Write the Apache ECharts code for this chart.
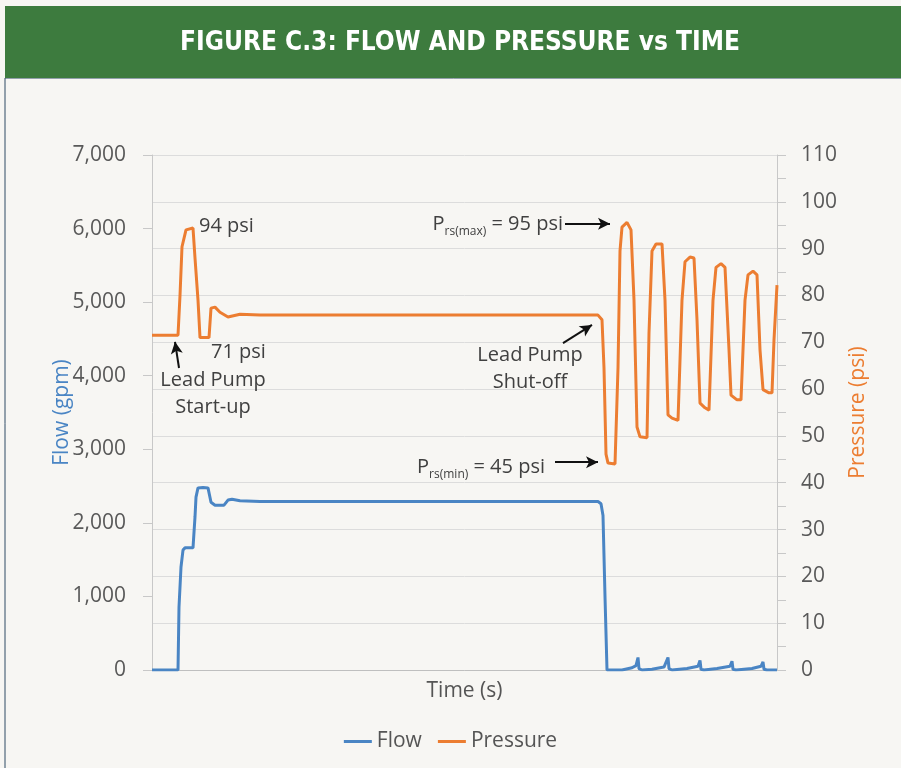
<!DOCTYPE html>
<html>
<head>
<meta charset="utf-8">
<title>Figure C.3</title>
<script src="https://cdn.jsdelivr.net/npm/echarts@6/dist/echarts.min.js"></script>
<style>
  html, body { margin: 0; padding: 0; background: #f7f6f3; }
  #chart { width: 901px; height: 768px; }
</style>
</head>
<body>
<div id="chart"></div>
<script>
// time axis has no labels in the original, so t is just an arbitrary time unit
const flowData = [
  [0, 0], [26, 0], [27, 856], [29, 1400], [31, 1630], [33, 1660], [41, 1660],
  [43, 2080], [44, 2350], [46, 2475], [51, 2480], [56, 2475], [59, 2280],
  [63, 2240], [72, 2240], [76, 2310], [80, 2320], [88, 2300], [108, 2290],
  [446, 2290], [449, 2260], [451, 2100], [453, 1000], [455, 0],
  [470, 0], [480, 30], [484, 60], [486, 170], [487, 20], [490, 0],
  [500, 10], [512, 40], [516, 170], [517, 20], [520, 0],
  [535, 20], [546, 50], [548, 130], [549, 10], [552, 0],
  [565, 20], [578, 50], [580, 120], [581, 10], [584, 0],
  [600, 20], [609, 50], [611, 110], [612, 10], [615, 0], [625, 0],
];

const pressureData = [
  [0, 71.5], [26, 71.5], [28, 80], [30, 90.4], [34, 94], [41, 94.4], [43, 88],
  [46, 79], [48, 71], [57, 71], [59, 77.3], [63, 77.5], [68, 76.4], [76, 75.4],
  [88, 76], [108, 75.8], [446, 75.8], [450, 74.8], [452, 64.5], [454, 46.1],
  [456, 44.2], [463, 44], [466, 64.5], [468, 89.5], [470, 94.6], [475, 95.6],
  [479, 94], [482, 79], [485, 51.9], [488, 49.8], [495, 49.6],
  [497, 72], [500, 89.5], [504, 91], [510, 91], [513, 79], [516, 54.5],
  [520, 53.8], [526, 53.3], [530, 79], [533, 87.2], [538, 88.2], [542, 88],
  [545, 74.8], [548, 57], [553, 56], [557, 55.5], [561, 79], [564, 86],
  [569, 86.8], [573, 86], [577, 68.4], [579, 58.7], [585, 57.7], [589, 57.7],
  [593, 79], [596, 84.4], [601, 85.2], [605, 84.4], [608, 68.4], [611, 59.9],
  [617, 59.2], [620, 59.2], [622, 70.5], [625, 82.2],
];

const flowTicks = { min: 0, max: 7000, interval: 1000 };
const pressureTicks = { min: 0, max: 110, interval: 10 };

// annotation text, anchored in [t, psi]
const notes = [
  { coord: [47, 94.8], text: "94 psi", pos: "right" },
  { coord: [59, 67.9], text: "71 psi", pos: "right" },
  { coord: [61, 59], text: "Lead Pump\nStart-up", pos: "inside" },
  { coord: [378, 64.4], text: "Lead Pump\nShut-off", pos: "inside" },
  { coord: [411, 95.3], text: "{p|P}{sub|rs(max)}{p| = 95 psi}", pos: "left" },
  { coord: [393, 43.4], text: "{p|P}{sub|rs(min)}{p| = 45 psi}", pos: "left" },
];

// arrows: [tail, head] in [t, psi]
const arrows = [
  [[27, 64.5], [23, 70.1]],
  [[413, 95.3], [458, 95.3]],
  [[411, 69.8], [440, 73.7]],
  [[403, 44.4], [446, 44.4]],
];

const font = "'Open Sans', sans-serif";
const textColor = "#404040";

const chart = echarts.init(document.getElementById("chart"));
chart.setOption({
  animation: false,
  backgroundColor: "#f7f6f3",
  color: ["#4a85c4", "#ec7d31"],
  graphic: [
    {
      type: "rect",
      shape: { x: 5, y: 78, width: 1000, height: 800 },
      style: { fill: "none", stroke: "#2e4a64", lineWidth: 1 },
      silent: true,
    },
    {
      type: "rect",
      shape: { x: 5, y: 6, width: 900, height: 72 },
      style: { fill: "#3d7b3e" },
      silent: true,
    },
    {
      type: "text",
      x: 460,
      y: 43,
      style: {
        text: "FIGURE C.3: FLOW AND PRESSURE vs TIME",
        fill: "#ffffff",
        font: "bold 26px 'Liberation Sans Narrow', 'DejaVu Sans Condensed', sans-serif",
        align: "center",
        verticalAlign: "middle",
      },
      silent: true,
    },
  ],
  legend: {
    bottom: 11,
    left: "center",
    icon: "rect",
    itemWidth: 28,
    itemHeight: 3,
    itemGap: 16,
    textStyle: { fontFamily: font, fontSize: 21, color: "#555555" },
    data: ["Flow", "Pressure"],
  },
  grid: { left: 152, right: 124, top: 155, bottom: 98 },
  xAxis: {
    type: "value",
    min: 0,
    max: 625,
    name: "Time (s)",
    nameLocation: "middle",
    nameGap: 11,
    nameTextStyle: { fontFamily: font, fontSize: 21, color: "#555555" },
    axisLine: { show: true, lineStyle: { color: "#bfbfbf" } },
    axisTick: { show: false },
    axisLabel: { show: false },
    splitLine: { show: false },
  },
  yAxis: [
    {
      type: "value",
      ...flowTicks,
      position: "left",
      name: "Flow (gpm)",
      nameLocation: "middle",
      nameRotate: 90,
      nameGap: 79,
      nameMoveOverlap: false,
      nameTextStyle: { fontFamily: font, fontSize: 21, color: "#4a85c4" },
      axisLine: { show: true, lineStyle: { color: "#c8c8c8" } },
      axisTick: { show: true, length: 9, lineStyle: { color: "#c8c8c8" } },
      axisLabel: {
        margin: 26,
        fontFamily: font,
        fontSize: 21,
        color: "#595959",
        formatter: (v) => v.toLocaleString("en-US"),
      },
      splitLine: { show: false },
    },
    {
      type: "value",
      ...pressureTicks,
      position: "right",
      name: "Pressure (psi)",
      nameLocation: "middle",
      nameRotate: 90,
      nameGap: 71,
      nameMoveOverlap: false,
      nameTextStyle: { fontFamily: font, fontSize: 21, color: "#ec7d31" },
      axisLine: { show: true, lineStyle: { color: "#c8c8c8" } },
      axisTick: { show: true, length: 9, lineStyle: { color: "#c8c8c8" } },
      minorTick: { show: true, splitNumber: 2, length: 9, lineStyle: { color: "#c8c8c8" } },
      axisLabel: { margin: 24, fontFamily: font, fontSize: 21, color: "#595959" },
      splitLine: { show: true, lineStyle: { color: "#dcdcdc", width: 1 } },
    },
  ],
  series: [
    {
      name: "Flow",
      type: "line",
      yAxisIndex: 0,
      showSymbol: false,
      lineStyle: { width: 3 },
      data: flowData,
    },
    {
      name: "Pressure",
      type: "line",
      yAxisIndex: 1,
      showSymbol: false,
      lineStyle: { width: 3 },
      data: pressureData,
      markPoint: {
        silent: true,
        symbol: "circle",
        symbolSize: 0,
        data: notes.map((n) => ({
          coord: n.coord,
          label: {
            show: true,
            position: n.pos,
            distance: 0,
            formatter: n.text,
            fontFamily: font,
            fontSize: 20,
            lineHeight: 27,
            align: n.pos === "right" ? "left" : n.pos === "left" ? "right" : "center",
            color: textColor,
            rich: {
              p: { fontFamily: font, fontSize: 20, color: textColor },
              sub: { fontFamily: font, fontSize: 12, color: textColor, verticalAlign: "bottom", padding: [10, 0, 0, 0] },
            },
          },
        })),
      },
      markLine: {
        silent: true,
        symbol: ["none", "arrow"],
        symbolSize: [9, 12],
        lineStyle: { color: "#111111", width: 2, type: "solid" },
        label: { show: false },
        data: arrows.map((a) => [{ coord: a[0] }, { coord: a[1] }]),
      },
    },
  ],
});
</script>
</body>
</html>
